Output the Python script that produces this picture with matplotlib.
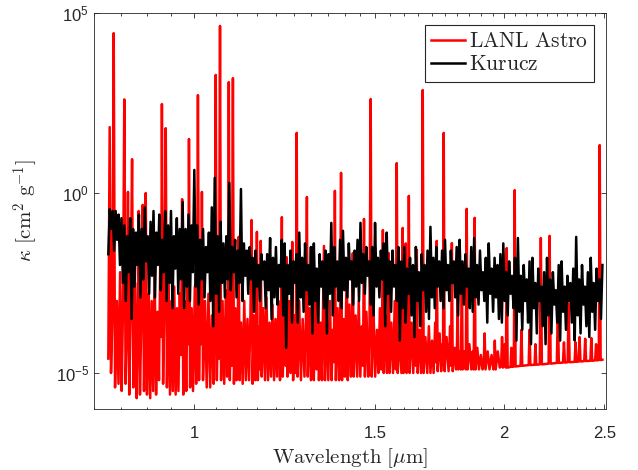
import numpy as np
import matplotlib
matplotlib.use("Agg")
import matplotlib.pyplot as plt
from matplotlib.ticker import FixedLocator, NullLocator, FixedFormatter, NullFormatter

plt.rcParams['font.family'] = ['Liberation Sans', 'DejaVu Sans']
plt.rcParams['mathtext.fontset'] = 'custom'
plt.rcParams['mathtext.rm'] = 'Liberation Sans'
plt.rcParams['mathtext.it'] = 'Liberation Sans:italic'
plt.rcParams['mathtext.bf'] = 'Liberation Sans:bold'

# ---------------- data ----------------
# LANL Astro opacity: wavelength [um] and log10(kappa [cm^2/g])
red_wl = [
    0.826, 0.8285, 0.831, 0.8335, 0.836, 0.8385, 0.842, 0.845, 0.848, 0.851,
    0.8535, 0.856, 0.8585, 0.861, 0.863, 0.8655, 0.868, 0.871, 0.8735, 0.877,
    0.880, 0.882, 0.884, 0.8865, 0.889, 0.892, 0.8945, 0.896, 0.898, 0.9005,
    0.904, 0.907, 0.910, 0.913, 0.916, 0.919, 0.922, 0.925, 0.928, 0.9295,
    0.931, 0.9335, 0.936, 0.939, 0.9415, 0.945, 0.948, 0.951, 0.954, 0.957,
    0.960, 0.963, 0.966, 0.969, 0.9715, 0.974, 0.9765, 0.980, 0.983, 0.986,
    0.9875, 0.989, 0.9915, 0.995, 0.998, 1.002, 1.005, 1.007, 1.009, 1.0115,
    1.0145, 1.016, 1.018, 1.0205,
    1.025, 1.029, 1.033, 1.037, 1.041, 1.045, 1.0475, 1.050, 1.0525, 1.055,
    1.0575, 1.060, 1.0625, 1.066, 1.070, 1.074, 1.077, 1.079, 1.081, 1.0835,
    1.086, 1.088, 1.091, 1.0935, 1.097, 1.100, 1.103, 1.105, 1.1075, 1.111,
    1.115, 1.119, 1.123, 1.127, 1.131, 1.1345, 1.1375, 1.140, 1.144, 1.147,
    1.149, 1.151, 1.1535, 1.1565, 1.159, 1.161, 1.1635, 1.168, 1.172, 1.176,
    1.180, 1.184, 1.188, 1.192, 1.196, 1.200, 1.204, 1.208, 1.212, 1.2145,
    1.217, 1.2195, 1.2235, 1.2275, 1.230, 1.2325, 1.237, 1.241, 1.2435, 1.2455,
    1.248, 1.252, 1.2555, 1.258, 1.2605, 1.265, 1.270, 1.275, 1.280, 1.2845,
    1.287, 1.2895,
    1.294, 1.2985, 1.301, 1.304, 1.307, 1.3115, 1.3155, 1.319, 1.322, 1.327,
    1.331, 1.334, 1.337, 1.340, 1.345, 1.350, 1.355, 1.360, 1.364, 1.367,
    1.370, 1.373, 1.378, 1.383, 1.386, 1.389, 1.392, 1.397, 1.401, 1.404,
    1.407, 1.410, 1.415, 1.420, 1.423, 1.426, 1.429, 1.435, 1.440, 1.445,
    1.450, 1.455, 1.459, 1.462, 1.465, 1.470, 1.476, 1.480, 1.484, 1.4875,
    1.493, 1.499, 1.505, 1.510, 1.515, 1.5195, 1.522, 1.525, 1.528, 1.534,
    1.539, 1.542, 1.545, 1.548, 1.554, 1.560, 1.566, 1.570, 1.573, 1.5765,
    1.583, 1.5895, 1.592, 1.594, 1.597, 1.6005, 1.603, 1.605, 1.608, 1.612,
    1.614, 1.616, 1.619,
    1.626, 1.632, 1.638, 1.642, 1.645, 1.6485, 1.655, 1.661, 1.664, 1.667,
    1.6705, 1.677, 1.684, 1.690, 1.696, 1.702, 1.708, 1.714, 1.717, 1.720,
    1.7235, 1.731, 1.737, 1.742, 1.744, 1.747, 1.7505, 1.758, 1.766, 1.772,
    1.776, 1.779, 1.7825, 1.790, 1.796, 1.799, 1.802, 1.8055, 1.812, 1.8155,
    1.819, 1.8225, 1.829, 1.835, 1.839, 1.8425, 1.850, 1.858, 1.864, 1.868,
    1.872, 1.8755, 1.883, 1.890, 1.898, 1.905, 1.910, 1.914, 1.918, 1.927,
    1.935, 1.944, 1.952, 1.955, 1.958, 1.962, 1.971, 1.980, 1.986, 1.990,
    1.994, 2.002, 2.007, 2.011, 2.015,
    2.028, 2.032, 2.036, 2.043, 2.047, 2.051, 2.074, 2.078, 2.082, 2.112,
    2.116, 2.120, 2.140, 2.144, 2.148, 2.165, 2.170, 2.175, 2.208, 2.213,
    2.218, 2.249, 2.254, 2.259, 2.280, 2.285, 2.290, 2.304, 2.309, 2.314,
    2.340, 2.345, 2.350, 2.361, 2.366, 2.371, 2.391, 2.396, 2.401, 2.424,
    2.429, 2.434, 2.450, 2.455, 2.460, 2.470, 2.475, 2.480, 2.490,
]
red_logk = [
    -4.6, 1.83, -5.0, -3.5, 4.44, -5.4, -3.0, -5.3, -2.2, -5.5,
    -3.2, 2.6, -5.3, -3.8, 0.03, -5.6, -3.4, 0.94, -5.4, -2.5,
    -5.7, -4.0, -0.5, -5.6, -3.6, -0.33, -5.5, -4.0, 0.0, -5.6,
    -2.8, -5.7, -3.0, -5.5, -2.2, -5.6, -3.3, -5.2, -1.2, -4.0,
    2.47, -5.3, -3.2, 1.8, -5.4, -2.4, -5.6, -3.0, -5.5, -2.6,
    -5.6, -3.2, -5.5, -2.8, -4.5, -0.17, -5.6, -3.0, -5.5, -2.4,
    -4.2, 1.5, -5.4, -3.2, -5.5, -2.6, -5.3, -3.6, 2.72, -5.2,
    -2.0, -4.2, 0.03, -5.2,
    -3.0, -5.4, -2.8, -5.4, -3.4, -5.3, -3.8, 3.28, -5.2, -3.5,
    -4.6, 4.64, -5.2, -3.0, -5.3, -2.7, -5.1, -3.9, 3.08, -5.2,
    -3.4, -4.8, 3.19, -5.3, -3.2, -5.2, -3.6, -1.22, -5.2, -3.6,
    -5.3, -3.0, -5.2, -3.5, -5.2, -3.4, -0.75, -5.3, -3.4, -5.2,
    -3.8, -1.08, -5.2, -3.7, -4.9, -1.33, -5.1, -3.2, -5.2, -2.9,
    -5.2, -3.6, -5.1, -3.1, -5.2, -3.5, -5.1, -3.0, -5.2, -3.6,
    -0.67, -5.1, -3.3, -4.8, -1.78, -5.1, -3.0, -5.0, -3.8, -1.36,
    -5.2, -3.4, -5.0, 1.67, -5.1, -3.0, -5.2, -3.5, -5.1, -3.4,
    -0.11, -5.1,
    -3.2, -5.2, -3.5, -1.5, -5.2, -3.0, -4.9, -2.14, -5.2, -3.6,
    -5.2, -3.4, -1.47, -5.2, -3.3, -5.2, -3.0, -5.2, -3.8, -4.7,
    0.06, -5.2, -3.2, -5.2, -3.7, 0.56, -5.2, -3.5, -5.1, -3.6,
    -1.94, -5.2, -3.1, -5.1, -3.8, -1.67, -5.1, -3.4, -5.1, -3.0,
    -5.1, -3.7, -4.8, -0.72, -5.1, -3.3, -5.1, -3.9, 2.61, -5.1,
    -3.1, -5.1, -3.8, -5.0, -3.2, -4.9, -3.9, -1.03, -5.0, -3.4,
    -5.0, -3.9, -1.67, -5.0, -3.6, -5.0, -3.0, -4.9, 0.83, -5.0,
    -3.9, -5.0, -3.9, -0.97, -5.0, -3.8, -4.9, -1.4, -5.0, -3.7,
    -4.6, -0.08, -5.0,
    -3.6, -5.0, -3.9, -4.8, -1.58, -5.0, -3.8, -5.0, -4.1, 2.86,
    -5.0, -4.0, -5.0, -3.7, -5.0, -4.1, -5.0, -3.6, -4.7, -1.33,
    -4.95, -3.9, -4.95, -4.2, -4.8, 1.67, -4.95, -4.0, -4.95, -3.7,
    -4.8, -1.39, -4.95, -4.3, -4.9, -4.5, -2.9, -4.9, -4.4, -4.9,
    -1.92, -4.9, -4.4, -4.9, -0.44, -4.9, -4.2, -4.9, -4.4, -4.9,
    -0.69, -4.9, -4.3, -4.9, -4.5, -4.9, -4.8, -3.9, -4.9, -4.4,
    -4.9, -4.5, -4.9, -4.8, -4.1, -4.9, -4.4, -4.85, -4.8, -4.0,
    -4.85, -4.2, -4.85, -1.53, -4.85,
    -4.83, -4.3, -4.83, -4.82, 0.08, -4.82, -4.8, -3.8, -4.8, -4.78,
    -3.8, -4.78, -4.77, -4.2, -4.77, -4.76, -1.25, -4.76, -4.74, -1.19,
    -4.74, -4.72, -3.25, -4.72, -4.71, -4.15, -4.71, -4.7, -3.06, -4.7,
    -4.69, -4.15, -4.69, -4.68, -4.0, -4.68, -4.67, -4.05, -4.67, -4.66,
    -4.03, -4.66, -4.65, -4.2, -4.65, -4.64, 1.33, -4.64, -4.63,
]

# Kurucz opacity: log10(kappa) sampled along the wavelength range
kurucz_range = [0.826, 2.49]
kurucz_logk = [
    -1.7, -0.45, -1.0, -0.5, -1.6, -0.5, -1.3, -0.6, -2.0, -0.7,
    -2.5, -0.9, -3.0, -1.2, -2.2, -0.7, -3.5, -1.0, -2.6, -1.1,
    -2.0, -0.6, -2.9, -1.0, -2.4, -0.4, -1.9, -1.2, -2.8, -0.8,
    -2.3, -0.5, -2.9, -1.1, -2.0, -0.6, -2.7, -1.3, -2.2, -0.5,
    -3.0, -0.9, -2.5, -0.5, -3.2, -1.2, -2.1, -0.7, -2.8, -1.0,
    -2.4, -0.25, -3.2, -1.0, -2.6, -0.6, -3.0, -0.9, -2.2, 0.64,
    -2.6, -0.9, -3.1, -1.3, -2.4, -1.0, -2.9, -1.5, -2.2, -1.1,
    -3.0, -0.4, -3.7, 0.42, -2.8, -1.2, -3.3, -0.8, -2.5, -1.4,
    -2.9, -1.2, -2.4, 0.28, -2.7, -1.5, -2.2, -1.3, -2.9, -1.6,
    -2.5, 0.11, -3.0, -1.4, -2.3, -1.6, -2.8, -1.5, -2.4, -1.8,
    -3.3, -1.6, -2.6, -2.0, -3.0, -1.7, -2.4, -1.9, -3.2, -1.7,
    -2.7, -1.25, -3.5, -1.8, -2.9, -1.5, -3.1, -2.0, -2.6, -1.3,
    -3.4, -1.4, -4.3, -2.0, -2.8, -1.6, -3.6, -1.9, -2.5, -1.7,
    -3.6, -1.1, -2.9, -1.8, -3.3, -1.4, -2.7, -2.0, -3.1, -1.5,
    -3.9, -1.4, -3.0, -2.1, -3.6, -1.7, -2.6, -1.9, -3.2, -1.6,
    -3.9, -1.7, -2.8, -0.83, -3.4, -1.5, -2.6, -1.9, -3.0, -1.3,
    -3.2, -1.05, -2.7, -1.8, -2.9, -1.4, -2.4, -1.9, -3.1, -1.6,
    -2.6, -1.3, -3.0, -0.83, -2.5, -1.7, -2.8, -1.5, -2.3, -1.9,
    -3.1, -1.5, -3.4, -0.83, -2.6, -1.8, -2.9, -1.6, -2.4, -1.4,
    -3.7, -1.1, -2.8, -1.9, -3.3, -1.6, -2.6, -2.0, -3.0, -1.5,
    -4.1, -1.9, -3.2, -1.5, -3.6, -2.1, -2.8, -1.8, -3.4, -2.0,
    -4.0, -1.5, -3.0, -2.2, -3.7, -1.7, -2.7, -2.0, -3.3, -1.6,
    -3.5, -0.94, -2.9, -1.8, -3.2, -1.5, -2.6, -1.9, -3.0, -1.6,
    -3.2, -1.3, -2.7, -2.0, -3.0, -1.6, -2.5, -1.9, -2.9, -1.5,
    -3.4, -1.3, -2.8, -1.9, -3.1, -1.7, -2.6, -2.1, -3.2, -1.5,
    -3.3, -1.25, -2.9, -2.0, -3.1, -1.6, -2.7, -2.2, -3.0, -1.8,
    -3.6, -1.4, -2.8, -2.1, -3.3, -1.8, -2.9, -2.0, -3.5, -1.7,
    -3.6, -1.4, -3.0, -2.2, -3.4, -1.9, -2.8, -2.3, -3.2, -1.8,
    -4.1, -1.25, -3.3, -2.3, -3.8, -2.0, -3.0, -2.4, -3.6, -1.9,
    -4.2, -1.8, -3.2, -2.5, -3.9, -2.1, -3.0, -2.6, -3.7, -2.2,
    -4.2, -1.8, -3.4, -2.4, -3.9, -2.2, -3.1, -2.7, -3.6, -2.0,
    -4.1, -1.9, -3.3, -2.6, -3.8, -2.3, -3.0, -2.5, -3.6, -2.1,
    -4.1, -1.22, -3.4, -2.4, -3.9, -2.0, -3.1, -2.6, -3.7, -2.2,
    -4.0, -1.8, -3.3, -2.5, -3.8, -2.1, -3.0, -2.4, -3.5, -2.0,
]

x_ticks = [1, 1.5, 2, 2.5]
x_ticklabels = ['1', '1.5', '2', '2.5']
y_ticks = [1e-5, 1e0, 1e5]
y_ticklabels = [r'$10^{-5}$', r'$10^{0}$', r'$10^{5}$']
series_names = [r'$\mathrm{LANL\ Astro}$', r'$\mathrm{Kurucz}$']

# ---------------- plot ----------------
kurucz_wl = np.geomspace(kurucz_range[0], kurucz_range[1], len(kurucz_logk))

fig = plt.figure(figsize=(6.38, 4.70), dpi=100)
ax = fig.add_axes([94 / 638, 1 - 409 / 470, (606 - 94) / 638, (409 - 13) / 470])

ax.plot(red_wl, 10 ** np.array(red_logk), color='#ff0000', lw=1.8, label=series_names[0])
ax.plot(kurucz_wl, 10 ** np.array(kurucz_logk), color='#000000', lw=1.8, label=series_names[1])

ax.set_xscale('log')
ax.set_yscale('log')
ax.set_xlim(0.8, 2.51)
ax.set_ylim(1e-6, 1e5)

ax.xaxis.set_major_locator(FixedLocator(x_ticks))
ax.xaxis.set_major_formatter(FixedFormatter(x_ticklabels))
minor = [v for v in np.round(np.arange(0.80, 2.51, 0.05), 2) if v not in x_ticks]
ax.xaxis.set_minor_locator(FixedLocator(minor))
ax.xaxis.set_minor_formatter(NullFormatter())
ax.yaxis.set_major_locator(FixedLocator(y_ticks))
ax.yaxis.set_major_formatter(FixedFormatter(y_ticklabels))
ax.yaxis.set_minor_locator(NullLocator())

edge = '#262626'
ax.tick_params(which='both', direction='in', top=True, right=True,
               color=edge, labelcolor=edge, labelsize=12, width=0.6)
ax.tick_params(which='major', length=3.6)
ax.tick_params(which='minor', length=1.8)
ax.tick_params(axis='x', pad=12)
for s in ax.spines.values():
    s.set_color(edge)
    s.set_linewidth(0.6)

ax.set_xlabel(r'$\mathrm{Wavelength\ [}\mu\mathrm{m]}$', fontsize=15,
              math_fontfamily='cm', color=edge, labelpad=4)
ax.set_ylabel(r'$\kappa\ [\mathrm{cm}^2\ \mathrm{g}^{-1}]$', fontsize=15,
              math_fontfamily='cm', color=edge, labelpad=11)

leg = ax.legend(loc='upper right', fontsize=15.5, fancybox=False, framealpha=1,
                edgecolor=edge, borderaxespad=0.55, handlelength=1.6,
                handletextpad=0.15, borderpad=0.3, labelspacing=0.1)
leg.get_frame().set_linewidth(0.8)
for t in leg.get_texts():
    t.set_math_fontfamily('cm')
    t.set_color(edge)

fig.savefig('out.png', dpi=100)
